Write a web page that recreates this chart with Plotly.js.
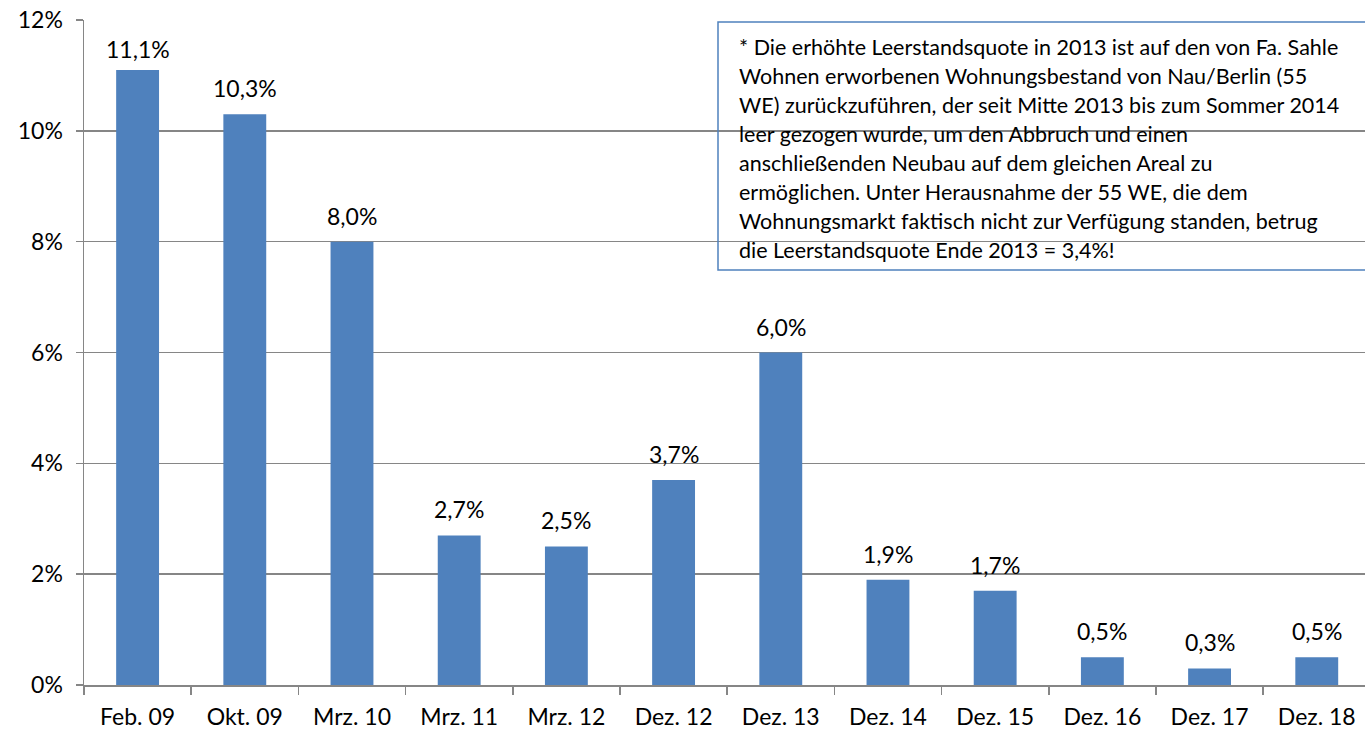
<!DOCTYPE html>
<html>
<head>
<meta charset="utf-8">
<script src="https://cdn.plot.ly/plotly-3.0.1.min.js"></script>
<style>html,body{margin:0;padding:0;background:#fff;}#chart{width:1365px;height:731px;}</style>
</head>
<body>
<div id="chart"></div>
<script>
const categories = ["Feb. 09","Okt. 09","Mrz. 10","Mrz. 11","Mrz. 12","Dez. 12","Dez. 13","Dez. 14","Dez. 15","Dez. 16","Dez. 17","Dez. 18"];
const values = [11.1, 10.3, 8.0, 2.7, 2.5, 3.7, 6.0, 1.9, 1.7, 0.5, 0.3, 0.5];
const yTicks = [0, 2, 4, 6, 8, 10, 12];
const noteLines = [
  "* Die erhöhte Leerstandsquote in 2013 ist auf den von Fa. Sahle",
  "Wohnen erworbenen Wohnungsbestand von Nau/Berlin (55",
  "WE) zurückzuführen, der seit Mitte 2013 bis zum Sommer 2014",
  "leer gezogen wurde, um den Abbruch und einen",
  "anschließenden Neubau auf dem gleichen Areal zu",
  "ermöglichen. Unter Herausnahme der 55 WE, die dem",
  "Wohnungsmarkt faktisch nicht zur Verfügung standen, betrug",
  "die Leerstandsquote Ende 2013 = 3,4%!"
];

const FONT = "Lato, 'Open Sans', sans-serif";
const labels = values.map(v => v.toFixed(1).replace('.', ',') + '%');

const trace = {
  type: 'bar',
  x: categories,
  y: values,
  marker: {color: '#4F81BD'},
  width: 0.4,
  cliponaxis: false,
  hoverinfo: 'x+y'
};

// plot area geometry (pixels) used only for placing the note
const W = 1365, H = 731, L = 84, T = 20, B = 46;
const pw = W - L, ph = H - T - B;
const px2x = p => (p - L) / pw;
const py2y = p => (H - B - p) / ph;

const noteAnns = noteLines.map((t, i) => ({
  xref: 'paper', yref: 'paper',
  x: px2x(737), y: py2y(47 + i * 29),
  xanchor: 'left', yanchor: 'middle',
  text: t, showarrow: false, align: 'left',
  font: {family: FONT, size: 21.5, color: '#000'}
}));

const barAnns = categories.map((c, i) => ({
  xref: 'x', yref: 'y',
  x: c, y: values[i],
  xanchor: 'center', yanchor: 'middle',
  yshift: i === 0 ? 21 : 26,
  text: labels[i], showarrow: false,
  font: {family: FONT, size: 23, color: '#000'}
}));

const layout = {
  width: W, height: H,
  margin: {l: L, r: 0, t: T, b: B},
  paper_bgcolor: '#fff', plot_bgcolor: '#fff',
  showlegend: false,
  bargap: 0.6,
  font: {family: FONT, color: '#000'},
  xaxis: {
    type: 'category',
    range: [-0.5, 11.45],
    showgrid: false,
    showline: true, linecolor: '#868686', linewidth: 1.5,
    ticks: 'outside', tickson: 'boundaries', ticklen: 8, tickcolor: '#868686', tickwidth: 1.5,
    ticklabelstandoff: 11,
    tickfont: {family: FONT, size: 23, color: '#000'},
    zeroline: false
  },
  yaxis: {
    range: [0, 12],
    tickvals: yTicks,
    ticktext: yTicks.map(v => v + '%'),
    showgrid: true, gridcolor: '#868686', gridwidth: 1.5,
    showline: true, linecolor: '#868686', linewidth: 1.5,
    ticks: 'outside', ticklen: 7, tickcolor: '#868686', tickwidth: 1.5,
    ticklabelstandoff: 8,
    tickfont: {family: FONT, size: 23, color: '#000'},
    zeroline: false
  },
  shapes: [{
    type: 'rect', xref: 'paper', yref: 'paper',
    x0: px2x(718), x1: 1.02, y0: py2y(270), y1: py2y(22),
    line: {color: '#4F81BD', width: 1.5},
    fillcolor: 'rgba(0,0,0,0)', layer: 'above'
  }],
  annotations: barAnns.concat(noteAnns)
};

Plotly.newPlot('chart', [trace], layout, {displayModeBar: false, staticPlot: true});
</script>
</body>
</html>
